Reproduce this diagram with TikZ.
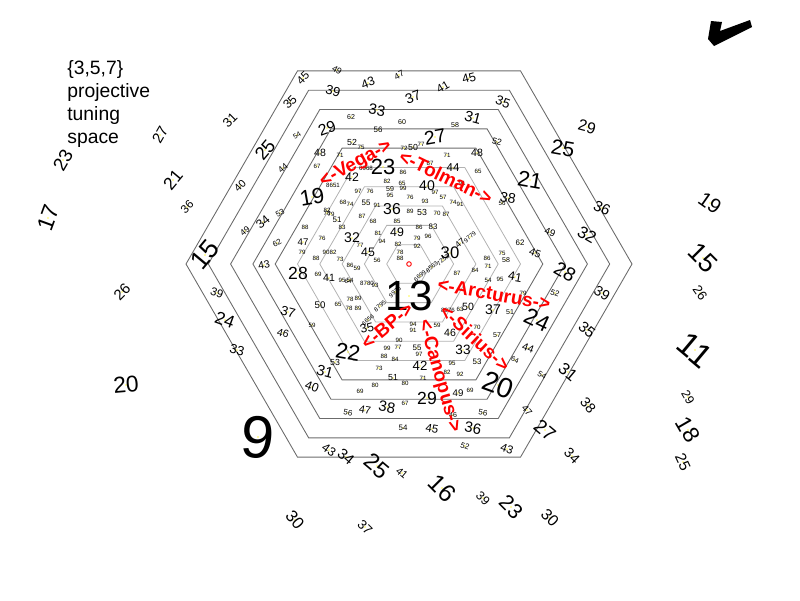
\documentclass[tikz,border=0pt]{standalone}
\usepackage{fontspec}
\setmainfont{Liberation Sans}

\tikzset{
  hexdark/.style={black!58,line width=0.5pt},
  hexlight/.style={black!30,line width=0.45pt},
  num/.style={inner sep=0pt,text=black},
  star/.style={red,inner sep=0pt,font=\bfseries\fontsize{10.8}{10.8}\selectfont},
}

\begin{document}
\begin{tikzpicture}[x=0.02cm,y=-0.02cm]
\useasboundingbox (0,0) rectangle (800,600);

\coordinate (O) at (409,264);

\foreach \k in {1,...,5}
  \draw[hexlight] (O) ++(22.3*\k,0) -- ++(120:22.3*\k) -- ++(180:22.3*\k) -- ++(240:22.3*\k) -- ++(300:22.3*\k) -- ++(0:22.3*\k) -- cycle;
\foreach \k in {6,...,10}
  \draw[hexdark] (O) ++(22.3*\k,0) -- ++(120:22.3*\k) -- ++(180:22.3*\k) -- ++(240:22.3*\k) -- ++(300:22.3*\k) -- ++(0:22.3*\k) -- cycle;

\node[anchor=north west,align=left,inner sep=0pt,font=\fontsize{11}{13.2}\selectfont] (title) at (67,60) {\{3,5,7\}\\projective\\tuning\\space};

\fill[black] (711,21) -- (722,22) -- (720,31) -- (750,20) -- (752,27) -- (714,46) -- (708,39) -- cycle;

\foreach \px/\py/\ang/\sz/\lab [count=\i] in {
48/218/70/13/17, 63/160/60/10.7/23, 160/135/60/8.5/27, 230/120/45/7.5/31,
173/180/50/10/21, 187/207/45/6.6/36, 205/255/50/15/15, 122/292/45/8.5/26,
126/385/5/13/20, 258/437/-5/34/9,
295/520/-50/9.5/30, 365/527/-45/7.5/37, 329/450/-35/7/43, 346/457/-40/8.5/34,
377/466/-40/13/25, 402/473/-40/6/41, 442/488/-45/14/16, 483/498/-45/7/39,
511/507/-45/12/23, 550/518/-45/9/30, 588/405/-50/8/38, 545/430/-40/11/27,
572/456/-45/8/34, 527/410/-50/5.5/47,
587/127/-15/9/29, 563/148/-10/12/25, 530/180/-10/12.5/21, 602/208/-25/8.5/36,
587/235/-30/9.5/32, 565/272/-30/11/28, 602/293/-30/8/39, 587/330/-40/8.5/35,
568/372/-40/9.5/31, 537/320/-25/13/24, 498/385/-20/16/20,
710/203/-35/11.6/19, 703/258/-45/15/15, 700/293/-55/7.5/26, 695/350/-40/19/11,
688/397/-60/7/29, 688/430/-60/13/18, 683/462/-65/8.7/25,
303/78/45/6.5/45, 337/70/-30/5/49, 368/83/20/7/43, 399/75/30/5/47,
443/87/30/6.5/41, 469/78/15/7/45, 333/91/-15/7.5/39, 413/97/20/8/37,
290/102/45/7/35, 503/102/-20/7.5/35, 377/110/-10/8.5/33, 473/118/-15/8.5/31,
327/128/20/9/29, 435/137/10/11/27, 265/150/50/10.5/25, 240/186/45/6/40,
297/135/30/4/54, 283/168/40/5/44, 263/222/40/7/34, 280/213/30/4.5/53,
245/231/40/5/49, 277/243/30/4.5/62, 264/265/10/6/43, 217/293/-20/6.5/39,
225/320/-20/10/24, 237/350/-15/7.5/33, 288/312/-15/7.5/37, 283/333/-15/6/46,
312/325/0/3.5/59, 312/387/-20/7/40, 325/372/-15/8.5/31, 335/362/0/5/53,
348/352/-10/12.5/22,
351/117/0/4/62, 402/122/0/4/60, 455/125/0/4/58, 378/130/0/4.5/56,
497/142/-15/5/52, 352/142/0/5/52, 361/147/0/3.5/75, 404/148/0/3.5/72,
413/147/0/5/50, 421/144/0/3.5/77, 320/153/0/6/48, 340/155/0/3.5/71,
447/155/0/3.5/71, 477/153/0/6/48, 383/167/0/12.5/23, 453/168/0/6.5/44,
317/166/0/3.5/67, 478/171/0/3.5/65, 366/168/0/3.5/6968, 403/172/0/3.5/86,
430/163/0/3.5/87, 352/177/0/7/42, 333/185/0/3.5/8651, 387/181/0/3.5/82,
402/183/0/3.5/65, 427/186/0/8/40, 435/192/0/3.5/97, 443/197/0/3.5/57,
462/183/0/3.5/91, 453/202/0/3.5/74, 460/204/0/3.5/91, 358/191/0/3.5/97,
370/191/0/3.5/76, 390/189/0/4/59, 390/195/0/3.5/95, 403/188/0/3.5/99,
410/197/0/3.5/76, 425/201/0/3.5/93, 366/203/0/4.5/55, 377/205/0/3.5/91,
392/209/0/9/36, 410/211/0/3.5/89, 422/212/0/5/53, 437/213/0/3.5/70,
446/214/0/3.5/87, 343/202/0/3.5/68, 350/204/0/3.5/74, 327/213/0/3.5/78,
312/197/10/12.5/19, 327/210/0/3.5/82, 331/214/0/3.5/79, 337/220/0/4.5/51,
342/227/0/3.5/83, 305/227/0/3.5/88, 303/242/0/5.5/47, 302/252/0/3.5/79,
322/238/0/3.5/76, 316/258/0/3.5/88, 326/252/0/3.5/90, 333/252/0/3.5/82,
340/259/0/3.5/73, 298/273/0/10/28, 329/278/0/6/41, 318/274/0/3.5/69,
342/280/0/3.5/95, 348/281/0/3.5/64, 320/305/0/5.5/50, 338/304/0/3.5/65,
350/299/0/3.5/78, 358/298/0/3.5/89,
362/216/0/3.5/87, 373/221/0/3.5/68, 397/221/0/3.5/85, 378/233/0/3.5/81,
382/241/0/3.5/94, 397/232/0/7/49, 419/227/0/3.5/86, 433/227/0/4.5/83,
417/238/0/3.5/79, 428/236/0/3.5/96, 398/244/0/3.5/82, 417/246/0/3.5/92,
360/245/0/3.5/77, 368/252/0/7/45, 400/252/0/3.5/78, 400/258/0/3.5/88,
377/260/0/3.5/56, 352/238/0/8/32, 450/253/0/9.5/30, 460/243/40/5/47,
357/268/0/3.5/59, 350/265/0/3.5/86, 350/280/0/3.5/54, 367/283/0/3.5/8780,
375/285/0/3.5/93, 349/308/0/3.5/78, 358/308/0/3.5/89, 409/296/0/24/13,
448/310/0/3.5/8976, 460/309/0/3.5/63, 468/307/0/6/50, 493/310/0/8/37,
457/273/0/3.5/87, 475/270/0/3.5/84, 488/280/0/3.5/54, 500/279/0/3.5/95,
487/258/0/3.5/86, 488/266/0/3.5/71, 508/198/-10/8/38, 502/203/0/3.5/56,
550/232/-20/5.5/49, 535/253/-20/6/45, 520/243/0/4.5/62, 502/253/0/3.5/75,
506/260/0/4/58, 515/277/-10/7/41, 555/293/-20/4.5/52, 523/293/0/3.5/79,
510/312/0/4/51, 497/335/0/4/57, 528/348/-20/6/44, 515/360/-20/4/64,
542/375/-30/4.5/54,
367/328/15/7/35, 413/324/0/3.5/94, 413/330/0/3.5/91, 450/333/0/6/46,
463/350/0/7.7/33, 477/362/0/4.5/53, 399/340/0/3.5/90, 398/347/0/3.5/77,
387/348/0/3.5/99, 417/348/0/4.5/55, 419/354/0/3.5/97, 384/356/0/3.5/88,
395/359/0/3.5/84, 420/366/0/7.5/42, 379/368/0/3.5/73, 447/372/0/3.5/82,
460/374/0/3.5/92, 452/363/0/3.5/95, 393/378/0/5/51, 405/383/0/3.5/80,
423/378/0/3.5/71, 375/385/0/3.5/80, 360/391/0/3.5/69, 427/398/0/10/29,
458/393/0/5.5/49, 470/390/0/3.5/69, 387/407/-10/8.5/38, 365/410/-10/6/47,
348/413/-10/4.5/56, 405/403/0/3.5/67, 483/413/-10/4.5/56, 403/428/0/4.5/54,
432/429/-10/6.5/45, 473/428/-10/8.5/36, 453/415/0/4/46, 465/446/-20/4.5/52,
507/449/-20/6.5/43, 437/325/0/3.5/59, 477/327/0/3.5/70,
420/276/40/3.5/6699, 432/267/40/3.5/8563, 443/260/40/3.5/7253, 470/237/40/3.5/9779,
395/292/40/3.5/9976, 380/306/40/3.5/8795, 368/320/40/3.5/6656}
{
  \fill[yellow!70] (\px,\py) circle (0.8);
  \node[num,rotate=\ang,font=\fontsize{\sz}{\sz}\selectfont] (n\i) at (\px,\py) {\lab};
}

\draw[red,line width=0.5pt] (O) circle (2.3);

\node[star,rotate=29] (vega) at (356,164) {<-Vega->};
\node[star,rotate=-26] (tolman) at (446,177) {<-Tolman->};
\node[star,rotate=-10] (arcturus) at (494,294) {<-Arcturus->};
\node[star,rotate=-43] (sirius) at (475,338) {<-Sirius->};
\node[star,rotate=-74] (canopus) at (439,376) {<-Canopus->};
\node[star,rotate=40] (bp) at (387,326) {<-BP->};

\end{tikzpicture}
\end{document}
